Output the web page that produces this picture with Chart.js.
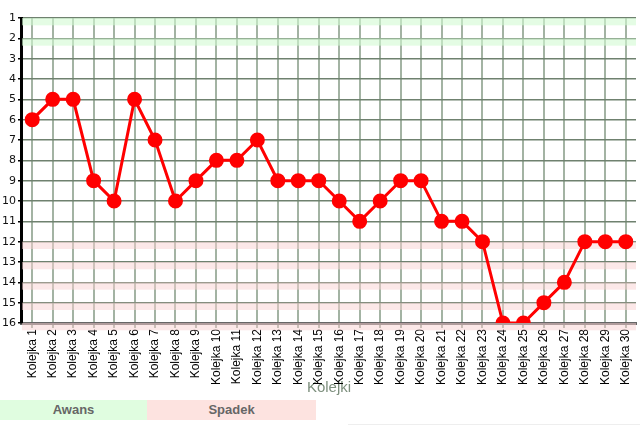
<!DOCTYPE html>
<html>
<head>
<meta charset="utf-8">
<script src="https://cdn.jsdelivr.net/npm/chart.js@4.4.1/dist/chart.umd.min.js"></script>
<style>
  body { margin: 0; background: #fff; width: 640px; height: 427px; overflow: hidden; position: relative; }
  #wrap { position: absolute; left: 0; top: 0; width: 640px; height: 398px; }
  .box { position: absolute; top: 400px; height: 20px; line-height: 20px; text-align: center;
         font-family: "Liberation Sans Narrow", "Liberation Sans", Arial, sans-serif; font-weight: bold;
         font-size: 13px; color: #666; }
  #awans { left: 0; width: 147px; background: #e0fde0; }
  #spadek { left: 147px; width: 169px; background: #fde3e0; }
  #foot { position: absolute; left: 348px; top: 424px; width: 292px; height: 1px; background: #eee; }
</style>
</head>
<body>
<div id="wrap"><canvas id="chart"></canvas></div>
<div class="box" id="awans">Awans</div>
<div class="box" id="spadek">Spadek</div>
<div id="foot"></div>
<script>
const rounds = []
for (let i = 1; i <= 30; i++) rounds.push("Kolejka " + i)
const positions = [6, 5, 5, 9, 10, 5, 7, 10, 9, 8, 8, 7, 9, 9, 9, 10, 11, 10, 9, 9, 11, 11, 12, 16, 16, 15, 14, 12, 12, 12]
const promotion = [1, 2]
const relegation = [12, 13, 14, 15, 16]
const axisTitle = "Kolejki"

// pasy awansu / spadku
const bands = {
  id: "bands",
  beforeDatasetsDraw(chart) {
    const { ctx, chartArea, scales } = chart
    const y = scales.y
    const h = (y.getPixelForValue(2) - y.getPixelForValue(1)) * 0.36
    ctx.save()
    ctx.fillStyle = "rgba(210,250,210,0.6)"
    promotion.forEach(p => ctx.fillRect(chartArea.left, y.getPixelForValue(p), chartArea.right - chartArea.left, h))
    ctx.fillStyle = "rgba(250,210,210,0.5)"
    relegation.forEach(p => ctx.fillRect(chartArea.left, y.getPixelForValue(p), chartArea.right - chartArea.left, h))
    ctx.restore()
  }
}

const ctx = document.getElementById("chart").getContext("2d")
const chart = new Chart(ctx, {
  type: "line",
  data: {
    labels: rounds,
    datasets: [{
      data: positions,
      borderColor: "#ff0000",
      backgroundColor: "#ff0000",
      borderWidth: 3,
      pointRadius: 6,
      pointHoverRadius: 6,
      fill: false,
      tension: 0
    }]
  },
  options: {
    responsive: true,
    maintainAspectRatio: false,
    animation: false,
    layout: { autoPadding: false, padding: { top: 18, right: 4, left: 0, bottom: 0 } },
    plugins: { legend: { display: false }, tooltip: { enabled: false } },
    scales: {
      x: {
        offset: true,
        afterFit(scale) {
          scale.height = 75
          scale.paddingLeft = 0
          scale.paddingRight = 0
        },
        grid: { offset: false, color: "#a3b3a3", lineWidth: 2, drawTicks: true, tickLength: 5, tickColor: "#9aa89a" },
        border: { color: "#666", width: 3 },
        ticks: {
          autoSkip: false, maxRotation: 90, minRotation: 90, padding: 1,
          color: "#000", font: { family: "Liberation Sans", size: 12 }
        },
        title: {
          display: true, text: axisTitle, color: "#7d8f7d",
          font: { family: "Liberation Sans", size: 15 }, padding: { top: 0, bottom: 1 }
        }
      },
      y: {
        reverse: true,
        min: 1,
        max: 16,
        afterFit(scale) { scale.paddingTop = 0; scale.paddingBottom = 0 },
        grid: { color: "#6f816f", lineWidth: 1.5, tickColor: "#000", tickLength: 4 },
        border: { color: "#000", width: 3 },
        ticks: {
          stepSize: 1, padding: 2, color: "#111",
          font: { family: "DejaVu Sans", size: 11 }
        }
      }
    }
  },
  plugins: [bands]
})
</script>
</body>
</html>
